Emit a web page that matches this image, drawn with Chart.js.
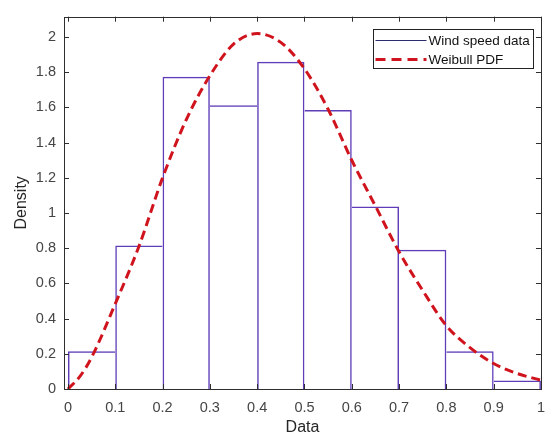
<!DOCTYPE html>
<html>
<head>
<meta charset="utf-8">
<script src="https://cdn.jsdelivr.net/npm/chart.js@4"></script>
<style>
  html, body { margin: 0; padding: 0; background: #fff; }
  #wrap { width: 555px; height: 440px; }
</style>
</head>
<body>
<div id="wrap"><canvas id="myChart" width="555" height="440"></canvas></div>
<script>
// histogram bins (edges) and normalised density of each bin
var binEdges = [0, 0.1, 0.2, 0.3, 0.4, 0.5, 0.6, 0.7, 0.8, 0.9, 1.0];
var binDensity = [0.214, 0.816, 1.775, 1.613, 1.860, 1.586, 1.037, 0.792, 0.214, 0.048];

// fitted Weibull pdf
var pdfX = [0, 0.025, 0.05, 0.1, 0.15, 0.2, 0.25, 0.3, 0.35, 0.4, 0.45, 0.5, 0.55, 0.6, 0.65, 0.7, 0.75, 0.8, 0.85, 0.9, 0.95, 1.0];
var pdfY = [0, 0.07, 0.18, 0.484, 0.81, 1.2, 1.53, 1.78, 1.96, 2.02, 1.97, 1.82, 1.59, 1.3, 1.04, 0.78, 0.56, 0.36, 0.235, 0.145, 0.088, 0.05];

var xTicks = [0, 0.1, 0.2, 0.3, 0.4, 0.5, 0.6, 0.7, 0.8, 0.9, 1];
var yTicks = [0, 0.2, 0.4, 0.6, 0.8, 1, 1.2, 1.4, 1.6, 1.8, 2];

var histData = [];
for (let i = 0; i < binDensity.length; i++) {
  histData.push({ x: (binEdges[i] + binEdges[i + 1]) / 2, y: binDensity[i] });
}
var pdfData = pdfX.map((x, i) => ({ x: x, y: pdfY[i] }));

var axisColor = '#2e2e2e';
var tickFont = { family: '"Liberation Sans", Arial, sans-serif', size: 14.5 };
var titleFont = { family: '"Liberation Sans", Arial, sans-serif', size: 16 };

// shared edge between two bins is drawn only by the taller one
function barBorder(c) {
  const i = c.dataIndex, n = binDensity.length;
  return {
    top: 1.5,
    bottom: 0,
    left: (i == 0 || binDensity[i] >= binDensity[i - 1]) ? 1.5 : 0,
    right: (i == n - 1 || binDensity[i] > binDensity[i + 1]) ? 1.5 : 0
  };
}

// box round the axes with inward ticks, like matlab
var boxPlugin = {
  id: 'box',
  afterDatasetsDraw(chart) {
    const { ctx, chartArea: a, scales } = chart;
    ctx.save();
    ctx.strokeStyle = axisColor;
    ctx.lineWidth = 1;
    ctx.setLineDash([]);
    ctx.strokeRect(Math.round(a.left) + 0.5, Math.round(a.top) + 0.5,
      Math.round(a.right - a.left), Math.round(a.bottom - a.top));
    const tl = 5;
    ctx.beginPath();
    xTicks.forEach(v => {
      const px = Math.round(scales.x.getPixelForValue(v)) + 0.5;
      ctx.moveTo(px, a.top); ctx.lineTo(px, a.top + tl);
      ctx.moveTo(px, a.bottom); ctx.lineTo(px, a.bottom - tl);
    });
    yTicks.forEach(v => {
      const py = Math.round(scales.y.getPixelForValue(v)) + 0.5;
      ctx.moveTo(a.left, py); ctx.lineTo(a.left + tl, py);
      ctx.moveTo(a.right, py); ctx.lineTo(a.right - tl, py);
    });
    ctx.stroke();
    ctx.restore();
  },
  afterDraw(chart) {
    // legend box in the top right corner
    const { ctx, chartArea: a } = chart;
    const ds = chart.data.datasets;
    const w = 160, h = 39;
    const x0 = Math.round(a.right - 8 - w) + 0.5, y0 = Math.round(a.top + 12) + 0.5;
    ctx.save();
    ctx.fillStyle = '#fff';
    ctx.fillRect(x0, y0, w, h);
    ctx.strokeStyle = '#222';
    ctx.lineWidth = 1;
    ctx.strokeRect(x0, y0, w, h);
    ctx.font = '13.5px "Liberation Sans", Arial, sans-serif';
    ctx.textBaseline = 'middle';
    ctx.fillStyle = '#111';
    const items = [ds[1], ds[0]];
    items.forEach((d, i) => {
      const yy = y0 + 11 + i * 19;
      ctx.beginPath();
      ctx.strokeStyle = i == 0 ? '#2c2a6e' : d.borderColor;
      ctx.lineWidth = i == 0 ? 1 : 3;
      ctx.setLineDash(i == 0 ? [] : [10, 6]);
      ctx.moveTo(x0 + 2, yy); ctx.lineTo(x0 + 53, yy);
      ctx.stroke();
      ctx.setLineDash([]);
      ctx.fillText(d.label, x0 + 55, yy + 1);
    });
    ctx.restore();
  }
};

const ctx = document.getElementById('myChart').getContext('2d');
var myChart = new Chart(ctx, {
  data: {
    datasets: [{
      type: 'line',
      label: 'Weibull PDF',
      data: pdfData,
      borderColor: '#d0141e',
      borderWidth: 3,
      borderDash: [9, 5],
      pointRadius: 0,
      cubicInterpolationMode: 'monotone',
      order: 0
    }, {
      type: 'bar',
      label: 'Wind speed data',
      data: histData,
      backgroundColor: 'rgba(255,255,255,0)',
      borderColor: '#5f3db8',
      borderWidth: barBorder,
      borderSkipped: false,
      barPercentage: 1,
      categoryPercentage: 1,
      inflateAmount: 0,
      order: 1
    }]
  },
  options: {
    responsive: false,
    animation: false,
    layout: { padding: { top: 6, right: 7, left: 0, bottom: 0 } },
    plugins: {
      legend: { display: false },
      tooltip: { enabled: false }
    },
    scales: {
      x: {
        type: 'linear',
        min: -4 / 480,
        max: 1.0,
        offset: false,
        afterFit: (s) => { s.height = 51; },
        afterBuildTicks: (s) => { s.ticks = xTicks.map(v => ({ value: v })); },
        grid: { display: false, drawTicks: false },
        border: { display: false },
        ticks: {
          padding: 10,
          color: '#454545',
          font: tickFont,
          maxRotation: 0,
          autoSkip: false,
          callback: (v) => String(Number(v.toFixed(1)))
        },
        title: { display: true, text: 'Data', color: '#262626', font: titleFont, padding: { top: 0, bottom: 3 } }
      },
      y: {
        min: 0,
        max: 2.116,
        afterFit: (s) => { s.width = 64; },
        afterBuildTicks: (s) => { s.ticks = yTicks.map(v => ({ value: v })); },
        grid: { display: false, drawTicks: false },
        border: { display: false },
        ticks: {
          padding: 8,
          color: '#454545',
          font: tickFont,
          autoSkip: false,
          callback: (v) => String(Number(v.toFixed(1)))
        },
        title: { display: true, text: 'Density', color: '#262626', font: titleFont, padding: { top: 12, bottom: 0 } }
      }
    }
  },
  plugins: [boxPlugin]
});
</script>
</body>
</html>
